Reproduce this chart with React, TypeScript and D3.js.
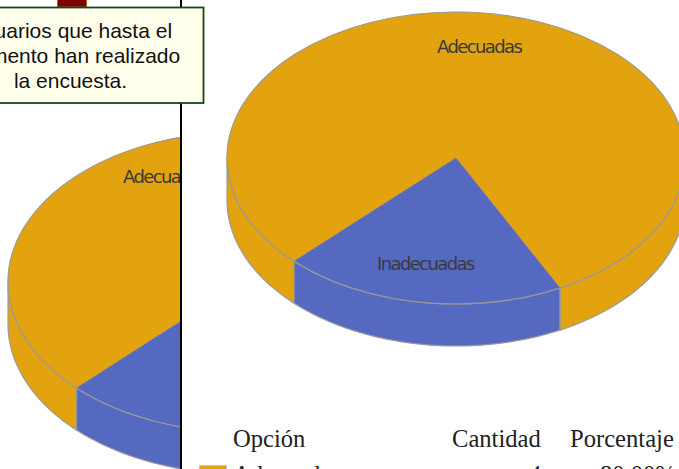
import * as d3 from 'd3'

const OPCIONES = ['Adecuadas', 'Inadecuadas']
const CANTIDADES = [4, 1]
const PORCENTAJES = ['80.00%', '20.00%']
const COLORES = ['#E2A30E', '#5569C0']
const ENCABEZADOS = ['Opción', 'Cantidad', 'Porcentaje']
const AVISO = ['Usuarios que hasta el', 'momento han realizado', 'la encuesta.']

const W = 679
const H = 469
const GRIS = '#9a9a9a'
const DEPTH = 42
const START = (225 * Math.PI) / 180

const slices = d3
  .pie<number>()
  .sort(null)
  .startAngle(START)
  .endAngle(START + 2 * Math.PI)(CANTIDADES)

const unitArc = d3.arc<d3.PieArcDatum<number>>().innerRadius(0).outerRadius(1)
const line = d3.line()

function Pie3D({ cx, cy, rx, ry, labels }: { cx: number; cy: number; rx: number; ry: number; labels: { x: number; y: number }[] }) {
  const px = (a: number) => cx + rx * Math.sin(a)
  const py = (a: number) => cy - ry * Math.cos(a)

  // only the front half of the wall shows, angles run clockwise from the top
  const walls: { i: number; d: string }[] = []
  slices.forEach((s, i) => {
    ;[0, 1].forEach(turn => {
      const from = Math.max(s.startAngle, Math.PI / 2 + turn * 2 * Math.PI)
      const to = Math.min(s.endAngle, (3 * Math.PI) / 2 + turn * 2 * Math.PI)
      if (to <= from) return
      const angles = d3.range(0, 61).map(k => from + ((to - from) * k) / 60)
      const top = angles.map(a => [px(a), py(a)] as [number, number])
      const bottom = angles.map(a => [px(a), py(a) + DEPTH] as [number, number]).reverse()
      walls.push({ i, d: line([...top, ...bottom])! + 'Z' })
    })
  })

  return (
    <g>
      {walls.map((w, k) => (
        <path key={k} d={w.d} fill={COLORES[w.i]} stroke={GRIS} strokeWidth={1.2} />
      ))}
      {slices.map((s, i) => (
        <path
          key={i}
          d={unitArc(s)!}
          transform={`translate(${cx},${cy}) scale(${rx},${ry})`}
          fill={COLORES[i]}
          stroke={COLORES[i]}
          strokeWidth={0.5}
          vectorEffect="non-scaling-stroke"
        />
      ))}
      <ellipse cx={cx} cy={cy} rx={rx} ry={ry} fill="none" stroke={GRIS} strokeWidth={1.2} />
      {labels.map((l, i) => (
        <text
          key={i}
          x={l.x}
          y={l.y}
          fontFamily="DejaVu Sans"
          fontSize={18}
          letterSpacing={-1.6}
          fill="#3a3a3a"
        >
          {OPCIONES[i]}
        </text>
      ))}
    </g>
  )
}

export default function App() {
  return (
    <svg
      width={W}
      height={H}
      viewBox={`0 0 ${W} ${H}`}
      style={{ position: 'absolute', left: 0, top: 0, display: 'block', background: '#fff' }}
    >
      <defs>
        <clipPath id="izq">
          <rect x={0} y={0} width={180} height={H} />
        </clipPath>
      </defs>

      <g clipPath="url(#izq)">
        <Pie3D cx={242} cy={282} rx={234} ry={150} labels={[{ x: 123, y: 183 }]} />
      </g>
      <Pie3D cx={456} cy={158} rx={229} ry={146} labels={[{ x: 437, y: 53 }, { x: 377, y: 270 }]} />

      <rect x={180} y={0} width={2} height={H} fill="#000" />

      <rect x={57.5} y={-2} width={29} height={9} fill="#7d0000" stroke="#b5622a" strokeWidth={1} />
      <rect x={-4} y={7.5} width={207.5} height={95.5} fill="#FFFFEC" stroke="#0E4A12" strokeWidth={1.8} />
      {AVISO.map((t, i) => (
        <text key={i} x={70.5} y={38 + i * 25} textAnchor="middle" fontFamily="Liberation Sans" fontSize={21} fill="#111">
          {t}
        </text>
      ))}

      <g fontFamily="Liberation Serif" fontSize={24.6} fill="#222">
        <text x={233} y={447}>{ENCABEZADOS[0]}</text>
        <text x={452} y={447}>{ENCABEZADOS[1]}</text>
        <text x={570} y={447}>{ENCABEZADOS[2]}</text>
        <rect x={199.5} y={465.5} width={27} height={20} fill={COLORES[0]} stroke="#c4c4c4" strokeWidth={1} />
        <text x={233} y={483}>{OPCIONES[0]}</text>
        <text x={529} y={483}>{CANTIDADES[0]}</text>
        <text x={600} y={483}>{PORCENTAJES[0]}</text>
      </g>
    </svg>
  )
}
